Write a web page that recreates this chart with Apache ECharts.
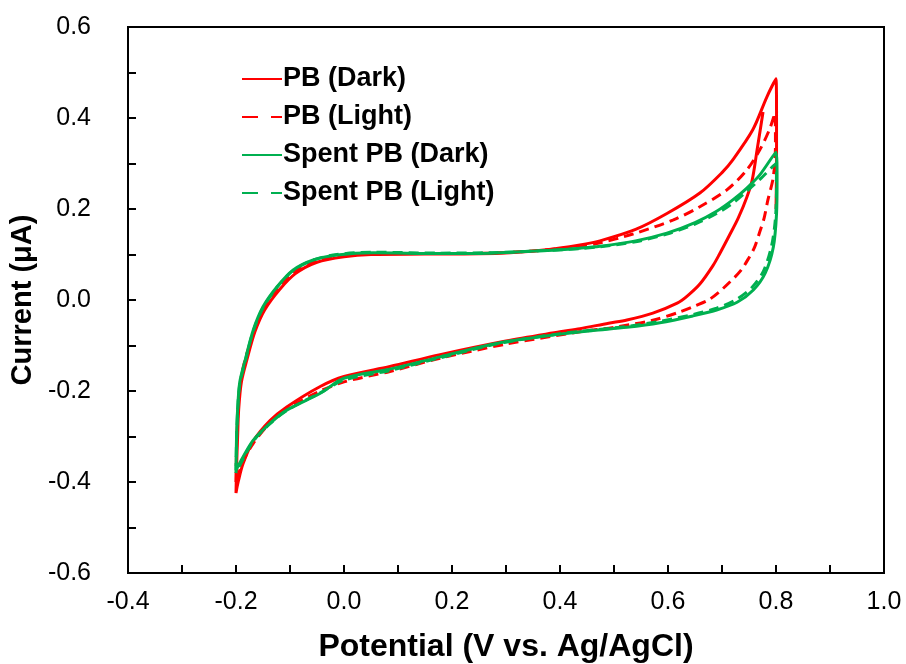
<!DOCTYPE html>
<html>
<head>
<meta charset="utf-8">
<script src="https://cdn.jsdelivr.net/npm/echarts@6/dist/echarts.min.js"></script>
<style>
  html, body { margin: 0; padding: 0; background: #fff; }
  #cv { width: 906px; height: 664px; }
</style>
</head>
<body>
<div id="cv"></div>
<script>
// cyclic voltammograms, [potential (V), current (uA)] in scan order
var pbDark = [
    [0.776, 0.413], [0.765, 0.33], [0.756, 0.264], [0.746, 0.226], [0.73, 0.18], [0.715, 0.145],
    [0.695, 0.10], [0.683, 0.075], [0.659, 0.035], [0.635, 0.008], [0.617, -0.007], [0.572, -0.029],
    [0.524, -0.044], [0.49, -0.051], [0.437, -0.063], [0.4, -0.07], [0.3, -0.09], [0.178, -0.12],
    [0.085, -0.146], [0.0, -0.168], [-0.044, -0.19], [-0.106, -0.235], [-0.137, -0.265],
    [-0.168, -0.31], [-0.187, -0.36], [-0.196, -0.4], [-0.2, -0.424],
    [-0.199, -0.37], [-0.197, -0.30], [-0.195, -0.24], [-0.19, -0.18], [-0.18, -0.132],
    [-0.165, -0.07], [-0.147, -0.022], [-0.12, 0.022], [-0.09, 0.058], [-0.05, 0.083],
    [0.0, 0.095], [0.05, 0.1], [0.15, 0.101], [0.289, 0.103], [0.37, 0.11], [0.437, 0.121],
    [0.474, 0.13], [0.54, 0.155], [0.598, 0.19], [0.659, 0.235], [0.7, 0.28], [0.72, 0.308],
    [0.757, 0.374], [0.783, 0.446], [0.8, 0.486],
    [0.801, 0.40], [0.801, 0.30], [0.8, 0.2]
];
var pbLight = [
    [-0.2, -0.40], [-0.199, -0.33], [-0.197, -0.26], [-0.194, -0.2], [-0.185, -0.14],
    [-0.168, -0.075], [-0.15, -0.025], [-0.124, 0.025], [-0.094, 0.06], [-0.057, 0.085],
    [-0.013, 0.097], [0.054, 0.102], [0.178, 0.102], [0.27, 0.103], [0.363, 0.109],
    [0.437, 0.118], [0.468, 0.124], [0.535, 0.145], [0.61, 0.176], [0.659, 0.205],
    [0.709, 0.242], [0.746, 0.286], [0.77, 0.33], [0.788, 0.375], [0.798, 0.41],
    [0.799, 0.34], [0.795, 0.27], [0.785, 0.22], [0.778, 0.18], [0.77, 0.15], [0.76, 0.115],
    [0.75, 0.093], [0.735, 0.065], [0.715, 0.04], [0.695, 0.018], [0.675, 0.0], [0.65, -0.013],
    [0.62, -0.027], [0.57, -0.045], [0.5, -0.06], [0.437, -0.07], [0.3, -0.097], [0.178, -0.128],
    [0.085, -0.157], [0.0, -0.18], [-0.044, -0.2], [-0.106, -0.24], [-0.137, -0.27],
    [-0.168, -0.315], [-0.187, -0.355], [-0.2, -0.40]
];
var spentDark = [
    [-0.2, -0.374], [-0.199, -0.30], [-0.197, -0.24], [-0.193, -0.18], [-0.183, -0.132],
    [-0.168, -0.066], [-0.15, -0.015], [-0.124, 0.029], [-0.094, 0.066], [-0.057, 0.088],
    [-0.013, 0.099], [0.054, 0.104], [0.178, 0.102], [0.27, 0.103], [0.363, 0.108],
    [0.437, 0.114], [0.474, 0.118], [0.54, 0.13], [0.598, 0.147], [0.65, 0.17], [0.69, 0.195],
    [0.72, 0.22], [0.745, 0.245], [0.77, 0.275], [0.8, 0.325],
    [0.802, 0.264], [0.801, 0.19], [0.795, 0.116], [0.78, 0.059], [0.758, 0.022],
    [0.728, -0.005], [0.69, -0.022], [0.646, -0.035], [0.585, -0.05], [0.524, -0.06],
    [0.461, -0.067], [0.4, -0.075], [0.289, -0.094], [0.178, -0.125], [0.085, -0.152],
    [0.0, -0.172], [-0.044, -0.205], [-0.106, -0.242], [-0.137, -0.271], [-0.168, -0.308],
    [-0.187, -0.345], [-0.2, -0.374]
];
var spentLight = [
    [-0.2, -0.38], [-0.199, -0.31], [-0.197, -0.245], [-0.193, -0.185], [-0.183, -0.135],
    [-0.168, -0.068], [-0.15, -0.017], [-0.124, 0.028], [-0.094, 0.065], [-0.057, 0.088],
    [-0.013, 0.1], [0.054, 0.105], [0.178, 0.103], [0.27, 0.104], [0.363, 0.108],
    [0.437, 0.113], [0.474, 0.117], [0.54, 0.128], [0.598, 0.145], [0.65, 0.167], [0.69, 0.19],
    [0.72, 0.213], [0.745, 0.238], [0.77, 0.265], [0.8, 0.30],
    [0.801, 0.25], [0.799, 0.18], [0.792, 0.12], [0.777, 0.064], [0.755, 0.027],
    [0.725, 0.0], [0.69, -0.018], [0.646, -0.032], [0.585, -0.047], [0.524, -0.058],
    [0.461, -0.066], [0.4, -0.074], [0.289, -0.095], [0.178, -0.127], [0.085, -0.155],
    [0.0, -0.176], [-0.044, -0.204], [-0.106, -0.243], [-0.137, -0.272], [-0.168, -0.31],
    [-0.187, -0.35], [-0.2, -0.38]
];
var seriesNames = ['PB (Dark)', 'PB (Light)', 'Spent PB (Dark)', 'Spent PB (Light)'];

var red = '#FF0000', green = '#00B050';
var font = 'Liberation Sans, Arial, sans-serif';

function cvLine(name, data, color, dashed) {
    return {
        name: name,
        type: 'line',
        data: data,
        symbol: 'none',
        smooth: 0.3,
        animation: false,
        lineStyle: {
            width: 3,
            color: color,
            type: dashed ? [10, 6] : 'solid'
        },
        itemStyle: { color: color }
    };
}

var chart = echarts.init(document.getElementById('cv'));
var option = {
    backgroundColor: '#fff',
    grid: {
        left: 128, right: 22, top: 27, bottom: 91,
        outerBoundsMode: 'none', containLabel: false,
        show: true, borderColor: '#000', borderWidth: 2
    },
    legend: {
        orient: 'vertical',
        left: 236, top: 60,
        itemWidth: 40, itemHeight: 14, itemGap: 10,
        data: [
            { name: seriesNames[0] },
            { name: seriesNames[1], lineStyle: { type: [16, 13] } },
            { name: seriesNames[2] },
            { name: seriesNames[3], lineStyle: { type: [16, 13] } }
        ],
        itemStyle: { opacity: 0 },
        textStyle: {
            fontFamily: font, fontWeight: 'bold', fontSize: 27, lineHeight: 28,
            color: '#000', padding: [0, 0, 0, -4]
        }
    },
    xAxis: {
        type: 'value', min: -0.4, max: 1.0, interval: 0.2,
        name: 'Potential (V vs. Ag/AgCl)',
        nameLocation: 'middle', nameGap: 58,
        nameTextStyle: { fontFamily: font, fontWeight: 'bold', fontSize: 32, color: '#000' },
        axisLine: { onZero: false, lineStyle: { color: '#000', width: 2 } },
        axisTick: { inside: true, length: 8, lineStyle: { color: '#000', width: 2 } },
        minorTick: { show: true, splitNumber: 2, length: 8, lineStyle: { color: '#000', width: 2 } },
        splitLine: { show: false },
        axisLabel: {
            margin: 17, fontFamily: font, fontSize: 25, color: '#000',
            formatter: function (v) { return v.toFixed(1); }
        }
    },
    yAxis: {
        type: 'value', min: -0.6, max: 0.6, interval: 0.2,
        name: 'Current (μA)',
        nameLocation: 'middle', nameGap: 82, nameRotate: 90,
        nameTextStyle: { fontFamily: font, fontWeight: 'bold', fontSize: 29, color: '#000' },
        axisLine: { onZero: false, lineStyle: { color: '#000', width: 2 } },
        axisTick: { inside: true, length: 8, lineStyle: { color: '#000', width: 2 } },
        minorTick: { show: true, splitNumber: 2, length: 8, lineStyle: { color: '#000', width: 2 } },
        splitLine: { show: false },
        axisLabel: {
            margin: 37, fontFamily: font, fontSize: 25, color: '#000',
            formatter: function (v) { return v.toFixed(1); }
        }
    },
    series: [
        cvLine(seriesNames[0], pbDark, red, false),
        cvLine(seriesNames[1], pbLight, red, true),
        cvLine(seriesNames[2], spentDark, green, false),
        cvLine(seriesNames[3], spentLight, green, true)
    ]
};
chart.setOption(option);
</script>
</body>
</html>
